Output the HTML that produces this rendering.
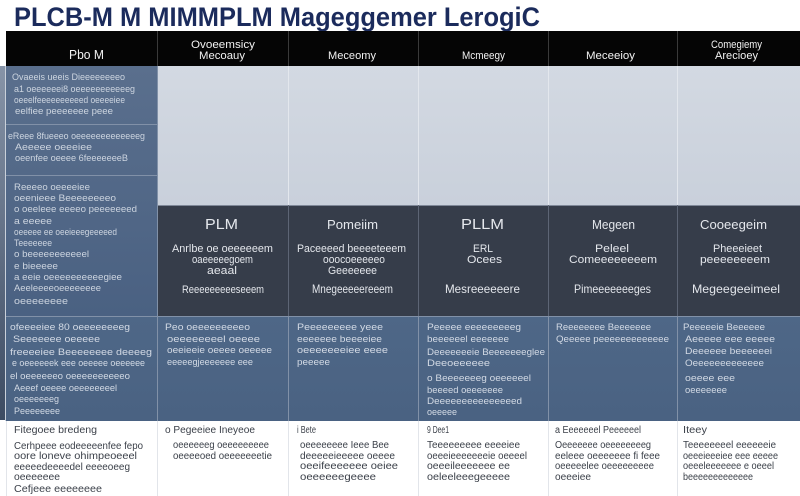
<!DOCTYPE html>
<html><head><meta charset="utf-8"><style>
html,body{margin:0;padding:0;background:#fff;width:800px;height:496px;overflow:hidden}
svg{display:block}
text{font-family:"Liberation Sans",sans-serif}
</style></head><body>
<svg width="800" height="496" viewBox="0 0 800 496" xmlns="http://www.w3.org/2000/svg">
<defs>
<linearGradient id="lc" x1="0" y1="0" x2="0" y2="1"><stop offset="0" stop-color="#5a6f8d"/><stop offset="1" stop-color="#4a6182"/></linearGradient>
<linearGradient id="lt" x1="0" y1="0" x2="0" y2="1"><stop offset="0" stop-color="#d3d9e2"/><stop offset="1" stop-color="#c9d0db"/></linearGradient>
<linearGradient id="ls" x1="0" y1="0" x2="0" y2="1"><stop offset="0" stop-color="#8794a8"/><stop offset="1" stop-color="#3c4b62"/></linearGradient>
<linearGradient id="bl" x1="0" y1="0" x2="0" y2="1"><stop offset="0" stop-color="#4e6787"/><stop offset="1" stop-color="#4a6282"/></linearGradient>
</defs>
<rect x="0" y="0" width="800" height="496" fill="#fff"/>
<!-- left strip -->
<rect x="0" y="66" width="5" height="354" fill="url(#ls)"/>
<!-- title -->
<text x="14" y="26" font-size="27" font-weight="bold" fill="#1b2b5c" textLength="526" lengthAdjust="spacingAndGlyphs">PLCB-M M MIMMPLM Mageggemer LerogiC</text>
<!-- header -->
<rect x="6" y="31" width="794" height="35" fill="#050505"/>
<!-- light area -->
<rect x="157" y="66" width="643" height="139" fill="url(#lt)"/>
<!-- left column -->
<rect x="6" y="66" width="151" height="250" fill="url(#lc)"/>
<!-- dark row -->
<rect x="157" y="205" width="643" height="111" fill="#363d4a"/>
<!-- blue row -->
<rect x="6" y="316" width="794" height="105" fill="url(#bl)"/>
<!-- white row -->
<rect x="6" y="421" width="794" height="75" fill="#fff"/>

<!-- lines: header separators -->
<g stroke="#3a3a3a" stroke-width="1">
<line x1="157.5" y1="31" x2="157.5" y2="66"/><line x1="288.5" y1="31" x2="288.5" y2="66"/><line x1="418.5" y1="31" x2="418.5" y2="66"/><line x1="548.5" y1="31" x2="548.5" y2="66"/><line x1="677.5" y1="31" x2="677.5" y2="66"/>
</g>
<g stroke="#e3e7ed" stroke-width="1">
<line x1="288.5" y1="66" x2="288.5" y2="205"/><line x1="418.5" y1="66" x2="418.5" y2="205"/><line x1="548.5" y1="66" x2="548.5" y2="205"/><line x1="677.5" y1="66" x2="677.5" y2="205"/>
</g>
<line x1="157" y1="205.5" x2="800" y2="205.5" stroke="#7f8898" stroke-width="1"/>
<g stroke="#5d6575" stroke-width="1">
<line x1="288.5" y1="205" x2="288.5" y2="316"/><line x1="418.5" y1="205" x2="418.5" y2="316"/><line x1="548.5" y1="205" x2="548.5" y2="316"/><line x1="677.5" y1="205" x2="677.5" y2="316"/>
</g>
<g stroke="#8191a8" stroke-width="1">
<line x1="157.5" y1="66" x2="157.5" y2="421"/>
<line x1="6" y1="124.5" x2="157" y2="124.5"/><line x1="6" y1="175.5" x2="157" y2="175.5"/>
<line x1="6" y1="316.5" x2="800" y2="316.5"/>
<line x1="288.5" y1="316" x2="288.5" y2="421"/><line x1="418.5" y1="316" x2="418.5" y2="421"/><line x1="548.5" y1="316" x2="548.5" y2="421"/><line x1="677.5" y1="316" x2="677.5" y2="421"/>
</g>
<g stroke="#e2e5ea" stroke-width="1">
<line x1="157.5" y1="421" x2="157.5" y2="496"/><line x1="288.5" y1="421" x2="288.5" y2="496"/><line x1="418.5" y1="421" x2="418.5" y2="496"/><line x1="548.5" y1="421" x2="548.5" y2="496"/><line x1="677.5" y1="421" x2="677.5" y2="496"/>
<line x1="6.5" y1="421" x2="6.5" y2="496"/>
</g>
<line x1="5.5" y1="66" x2="5.5" y2="421" stroke="#c9d0da" stroke-width="1"/>

<!-- header text -->
<g fill="#f2f2f2" font-size="11">
<text x="69" y="59" font-size="12.5" textLength="35" lengthAdjust="spacingAndGlyphs">Pbo M</text>
<text x="191" y="48" textLength="64" lengthAdjust="spacingAndGlyphs">Ovoeemsicy</text>
<text x="199" y="59" textLength="46" lengthAdjust="spacingAndGlyphs">Mecoauy</text>
<text x="328" y="59" textLength="48" lengthAdjust="spacingAndGlyphs">Meceomy</text>
<text x="462" y="59" textLength="43" lengthAdjust="spacingAndGlyphs">Mcmeegy</text>
<text x="586" y="59" textLength="49" lengthAdjust="spacingAndGlyphs">Meceeioy</text>
<text x="711" y="48" textLength="51" lengthAdjust="spacingAndGlyphs">Comegiemy</text>
<text x="715" y="59" textLength="43" lengthAdjust="spacingAndGlyphs">Arecioey</text>
</g>

<!-- left column text -->
<g fill="#cdd5e0" font-size="9.5" lengthAdjust="spacingAndGlyphs">
<text x="12" y="80" textLength="113" lengthAdjust="spacingAndGlyphs">Ovaeeis ueeis  Dieeeeeeeeo</text>
<text x="14" y="92" textLength="121" lengthAdjust="spacingAndGlyphs">a1 oeeeeeei8  oeeeeeeeeeeeg</text>
<text x="14" y="103" textLength="111" lengthAdjust="spacingAndGlyphs">oeeelfeeeeeeeeeed oeeeeiee</text>
<text x="15" y="114" textLength="98" lengthAdjust="spacingAndGlyphs">eelfiee peeeeeee  peee</text>
<text x="8" y="139" textLength="137" lengthAdjust="spacingAndGlyphs">eReee 8fueeeo oeeeeeeeeeeeeeg</text>
<text x="15" y="150" textLength="77" lengthAdjust="spacingAndGlyphs">Aeeeee oeeeiee</text>
<text x="15" y="161" textLength="113" lengthAdjust="spacingAndGlyphs">oeenfee oeeee 6feeeeeeeB</text>
<text x="14" y="190" textLength="76" lengthAdjust="spacingAndGlyphs">Reeeeo oeeeeiee</text>
<text x="14" y="201" textLength="102" lengthAdjust="spacingAndGlyphs">oeenieee  Beeeeeeeeo</text>
<text x="14" y="212" textLength="123" lengthAdjust="spacingAndGlyphs">o oeeleee eeeeo peeeeeeed</text>
<text x="14" y="224" textLength="38" lengthAdjust="spacingAndGlyphs">a eeeee</text>
<text x="14" y="235" textLength="103" lengthAdjust="spacingAndGlyphs">oeeeee ee oeeieeegeeeeed</text>
<text x="14" y="246" textLength="38" lengthAdjust="spacingAndGlyphs">Teeeeeee</text>
<text x="14" y="257" textLength="75" lengthAdjust="spacingAndGlyphs">o  beeeeeeeeeeel</text>
<text x="14" y="269" textLength="44" lengthAdjust="spacingAndGlyphs">e  bieeeee</text>
<text x="14" y="280" textLength="108" lengthAdjust="spacingAndGlyphs">a  eeie oeeeeeeeeeegiee</text>
<text x="14" y="291" textLength="87" lengthAdjust="spacingAndGlyphs">Aeeleeeeoeeeeeeee</text>
<text x="14" y="304" textLength="54" lengthAdjust="spacingAndGlyphs">oeeeeeeee</text>
</g>

<!-- dark row text -->
<g fill="#e4e7ec" font-size="11" text-anchor="start">
<text x="205" y="229" font-size="15" textLength="33" lengthAdjust="spacingAndGlyphs">PLM</text>
<text x="172" y="252" textLength="101" lengthAdjust="spacingAndGlyphs">Anrlbe oe oeeeeeem</text>
<text x="192" y="263" textLength="61" lengthAdjust="spacingAndGlyphs">oaeeeeegoem</text>
<text x="207" y="274" textLength="30" lengthAdjust="spacingAndGlyphs">aeaal</text>
<text x="182" y="293" textLength="82" lengthAdjust="spacingAndGlyphs">Reeeeeeeeeseeem</text>

<text x="327" y="229" font-size="13" textLength="51" lengthAdjust="spacingAndGlyphs">Pomeiim</text>
<text x="297" y="252" textLength="109" lengthAdjust="spacingAndGlyphs">Paceeeed beeeeteeem</text>
<text x="323" y="263" textLength="62" lengthAdjust="spacingAndGlyphs">ooocoeeeeeo</text>
<text x="328" y="274" textLength="49" lengthAdjust="spacingAndGlyphs">Geeeeeee</text>
<text x="312" y="293" font-size="12" textLength="81" lengthAdjust="spacingAndGlyphs">Mnegeeeeereeem</text>

<text x="461" y="229" font-size="15" textLength="43" lengthAdjust="spacingAndGlyphs">PLLM</text>
<text x="473" y="252" textLength="20" lengthAdjust="spacingAndGlyphs">ERL</text>
<text x="467" y="263" textLength="35" lengthAdjust="spacingAndGlyphs">Ocees</text>
<text x="445" y="293" font-size="12" textLength="75" lengthAdjust="spacingAndGlyphs">Mesreeeeeere</text>

<text x="592" y="229" font-size="13" textLength="43" lengthAdjust="spacingAndGlyphs">Megeen</text>
<text x="595" y="252" textLength="34" lengthAdjust="spacingAndGlyphs">Peleel</text>
<text x="569" y="263" textLength="88" lengthAdjust="spacingAndGlyphs">Comeeeeeeeem</text>
<text x="574" y="293" font-size="12" textLength="77" lengthAdjust="spacingAndGlyphs">Pimeeeeeeeges</text>

<text x="700" y="229" font-size="13" textLength="67" lengthAdjust="spacingAndGlyphs">Cooeegeim</text>
<text x="713" y="252" textLength="49" lengthAdjust="spacingAndGlyphs">Pheeeieet</text>
<text x="700" y="263" textLength="70" lengthAdjust="spacingAndGlyphs">peeeeeeeem</text>
<text x="692" y="293" font-size="12" textLength="88" lengthAdjust="spacingAndGlyphs">Megeegeeimeel</text>
</g>

<!-- blue row text -->
<g fill="#d3dae5" font-size="9.5">
<text x="10" y="330" textLength="120" lengthAdjust="spacingAndGlyphs">ofeeeeiee 80 oeeeeeeeeg</text>
<text x="13" y="342" textLength="87" lengthAdjust="spacingAndGlyphs">Seeeeeee oeeeee</text>
<text x="10" y="355" textLength="142" lengthAdjust="spacingAndGlyphs">freeeeiee Beeeeeeee  deeeeg</text>
<text x="12" y="366" textLength="133" lengthAdjust="spacingAndGlyphs">e oeeeeeek eee oeeeee oeeeeee</text>
<text x="10" y="379" textLength="120" lengthAdjust="spacingAndGlyphs">el oeeeeeeo  oeeeeeeeeeeo</text>
<text x="14" y="391" textLength="103" lengthAdjust="spacingAndGlyphs">Aeeef oeeee oeeeeeeeel</text>
<text x="14" y="402" textLength="45" lengthAdjust="spacingAndGlyphs">oeeeeeeeg</text>
<text x="14" y="414" textLength="46" lengthAdjust="spacingAndGlyphs">Peeeeeeee</text>

<text x="165" y="330" textLength="85" lengthAdjust="spacingAndGlyphs">Peo oeeeeeeeeeo</text>
<text x="167" y="342" textLength="93" lengthAdjust="spacingAndGlyphs">oeeeeeeeel oeeee</text>
<text x="167" y="353" textLength="105" lengthAdjust="spacingAndGlyphs">oeeieeie oeeee oeeeee</text>
<text x="167" y="365" textLength="86" lengthAdjust="spacingAndGlyphs">eeeeegjeeeeeee eee</text>

<text x="297" y="330" textLength="86" lengthAdjust="spacingAndGlyphs">Peeeeeeeee yeee</text>
<text x="297" y="342" textLength="85" lengthAdjust="spacingAndGlyphs">eeeeeee  beeeeiee</text>
<text x="297" y="353" textLength="91" lengthAdjust="spacingAndGlyphs">oeeeeeeeiee eeee</text>
<text x="297" y="365" textLength="33" lengthAdjust="spacingAndGlyphs">peeeee</text>

<text x="427" y="330" textLength="94" lengthAdjust="spacingAndGlyphs">Peeeee eeeeeeeeeg</text>
<text x="427" y="342" textLength="82" lengthAdjust="spacingAndGlyphs">beeeeeel eeeeeee</text>
<text x="427" y="355" textLength="118" lengthAdjust="spacingAndGlyphs">Deeeeeeeie Beeeeeeeglee</text>
<text x="427" y="366" textLength="63" lengthAdjust="spacingAndGlyphs">Deeoeeeeee</text>
<text x="427" y="381" textLength="104" lengthAdjust="spacingAndGlyphs">o Beeeeeeeg oeeeeeel</text>
<text x="427" y="393" textLength="76" lengthAdjust="spacingAndGlyphs">beeeed oeeeeeee</text>
<text x="427" y="404" textLength="95" lengthAdjust="spacingAndGlyphs">Deeeeeeeeeeeeeeed</text>
<text x="427" y="415" textLength="30" lengthAdjust="spacingAndGlyphs">oeeeee</text>

<text x="556" y="330" textLength="95" lengthAdjust="spacingAndGlyphs">Reeeeeeee Beeeeeee</text>
<text x="556" y="342" textLength="113" lengthAdjust="spacingAndGlyphs">Qeeeee peeeeeeeeeeeee</text>

<text x="683" y="330" textLength="82" lengthAdjust="spacingAndGlyphs">Peeeeeie Beeeeee</text>
<text x="685" y="342" textLength="90" lengthAdjust="spacingAndGlyphs">Aeeeee eee eeeee</text>
<text x="685" y="354" textLength="87" lengthAdjust="spacingAndGlyphs">Deeeeee beeeeeei</text>
<text x="685" y="366" textLength="79" lengthAdjust="spacingAndGlyphs">Oeeeeeeeeeeeee</text>
<text x="685" y="381" textLength="50" lengthAdjust="spacingAndGlyphs">oeeee eee</text>
<text x="685" y="393" textLength="42" lengthAdjust="spacingAndGlyphs">oeeeeeee</text>
</g>

<!-- white row text -->
<g fill="#3b4049" font-size="10">
<text x="14" y="433" textLength="83" lengthAdjust="spacingAndGlyphs">Fitegoee bredeng</text>
<text x="14" y="449" font-size="10.5" textLength="129" lengthAdjust="spacingAndGlyphs">Cerhpeee eodeeeeenfee fepo</text>
<text x="14" y="459" textLength="123" lengthAdjust="spacingAndGlyphs">oore loneve ohimpeoeeel</text>
<text x="14" y="470" textLength="116" lengthAdjust="spacingAndGlyphs">eeeeedeeeedel eeeeoeeg</text>
<text x="14" y="480" textLength="46" lengthAdjust="spacingAndGlyphs">oeeeeeee</text>
<text x="14" y="492" textLength="88" lengthAdjust="spacingAndGlyphs">Cefjeee eeeeeeee</text>

<text x="165" y="433" textLength="90" lengthAdjust="spacingAndGlyphs">o Pegeeiee Ineyeoe</text>
<text x="173" y="448" textLength="96" lengthAdjust="spacingAndGlyphs">oeeeeeeg oeeeeeeeee</text>
<text x="173" y="459" textLength="99" lengthAdjust="spacingAndGlyphs">oeeeeoed oeeeeeeetie</text>

<text x="297" y="433" textLength="19" lengthAdjust="spacingAndGlyphs">i Bete</text>
<text x="300" y="448" textLength="89" lengthAdjust="spacingAndGlyphs">oeeeeeeee Ieee Bee</text>
<text x="300" y="459" textLength="95" lengthAdjust="spacingAndGlyphs">deeeeeieeeee oeeee</text>
<text x="300" y="469" textLength="98" lengthAdjust="spacingAndGlyphs">oeeifeeeeeee oeiee</text>
<text x="300" y="480" textLength="76" lengthAdjust="spacingAndGlyphs">oeeeeeegeeee</text>

<text x="427" y="433" textLength="22" lengthAdjust="spacingAndGlyphs">9 Dee1</text>
<text x="427" y="448" textLength="93" lengthAdjust="spacingAndGlyphs">Teeeeeeeee eeeeiee</text>
<text x="427" y="459" textLength="100" lengthAdjust="spacingAndGlyphs">oeeeieeeeeeeie oeeeel</text>
<text x="427" y="469" textLength="83" lengthAdjust="spacingAndGlyphs">oeeeileeeeeee ee</text>
<text x="427" y="480" textLength="83" lengthAdjust="spacingAndGlyphs">oeleeleeegeeeee</text>

<text x="555" y="433" textLength="86" lengthAdjust="spacingAndGlyphs">a Eeeeeeel Peeeeeel</text>
<text x="555" y="448" textLength="96" lengthAdjust="spacingAndGlyphs">Oeeeeeee oeeeeeeeeg</text>
<text x="555" y="459" textLength="105" lengthAdjust="spacingAndGlyphs">eeleee oeeeeeee fi feee</text>
<text x="555" y="469" textLength="99" lengthAdjust="spacingAndGlyphs">oeeeeelee oeeeeeeeee</text>
<text x="555" y="480" textLength="36" lengthAdjust="spacingAndGlyphs">oeeeiee</text>

<text x="683" y="433" textLength="24" lengthAdjust="spacingAndGlyphs">Iteey</text>
<text x="683" y="448" textLength="93" lengthAdjust="spacingAndGlyphs">Teeeeeeeel eeeeeeie</text>
<text x="683" y="459" textLength="95" lengthAdjust="spacingAndGlyphs">oeeeieeeiee eee eeeee</text>
<text x="683" y="469" textLength="91" lengthAdjust="spacingAndGlyphs">oeeeleeeeeee e oeeel</text>
<text x="683" y="480" textLength="70" lengthAdjust="spacingAndGlyphs">beeeeeeeeeeeee</text>
</g>
</svg>
</body></html>
